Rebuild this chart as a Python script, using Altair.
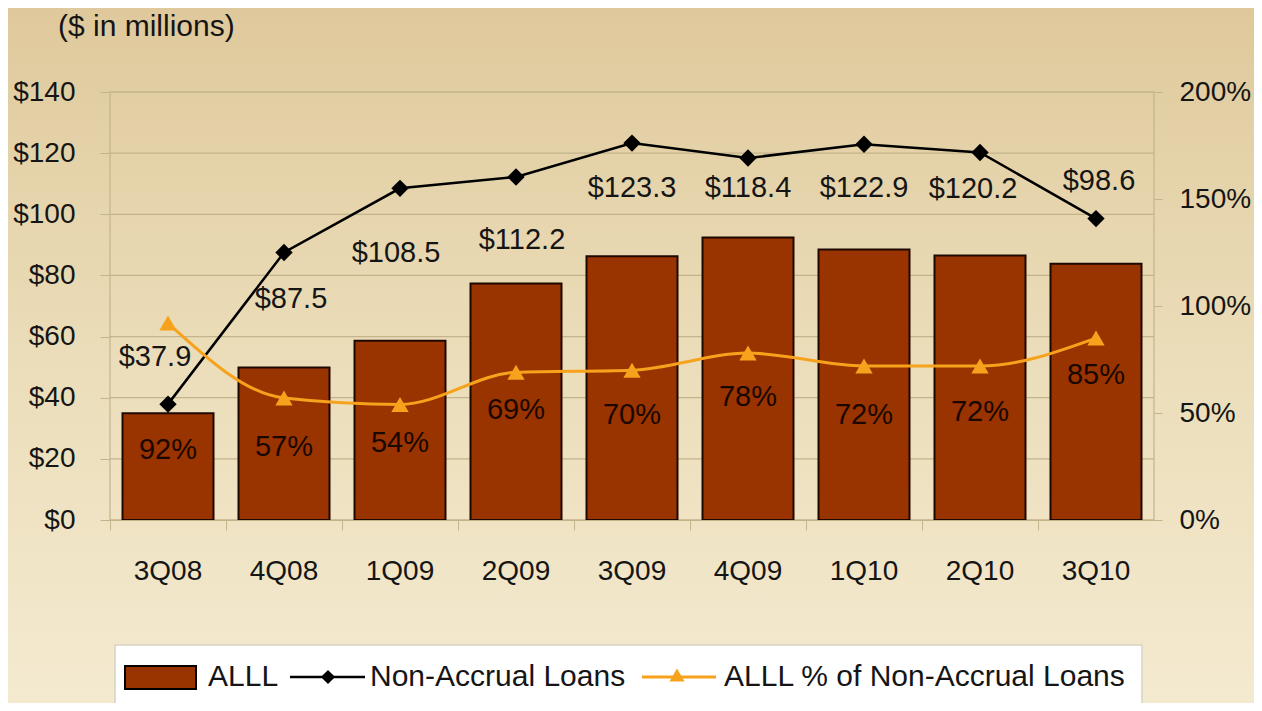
import altair as alt
import pandas as pd

# ---- data ----
quarters = ["3Q08", "4Q08", "1Q09", "2Q09", "3Q09", "4Q09", "1Q10", "2Q10", "3Q10"]
alll = [34.9, 49.9, 58.6, 77.4, 86.3, 92.4, 88.5, 86.5, 83.8]          # $ millions
non_accrual = [37.9, 87.5, 108.5, 112.2, 123.3, 118.4, 122.9, 120.2, 98.6]  # $ millions
alll_pct = [92, 57, 54, 69, 70, 78, 72, 72, 85]                          # %
left_ticks = [0, 20, 40, 60, 80, 100, 120, 140]
right_ticks = [0, 50, 100, 150, 200]

# label nudges (pixels) as placed in the original slide
nal_label_dx = [-13, 7, -4, 6, 0, 0, 0, -7, 3]
nal_label_dy = [-47, 46, 65, 63, 45, 30, 44, 36, -38]
pct_label_dy = [127, 49, 39, 38, 45, 44, 49, 46, 37]

df = pd.DataFrame({
    "quarter": quarters,
    "alll": alll,
    "nal": non_accrual,
    "pct": alll_pct,
    "nal_label": [f"${v:.1f}" for v in non_accrual],
    "pct_label": [f"{p}%" for p in alll_pct],
    "nal_dx": nal_label_dx,
    "nal_dy": nal_label_dy,
    "pct_dy": pct_label_dy,
})
grid_df = pd.DataFrame({"v": left_ticks})

FONT = "Liberation Sans"
BROWN = "#993300"
ORANGE = "#F7A21C"
GRID = "#c4b48b"
TXT = "#151515"

PW, PH = 1044, 428
STEP = PW / len(quarters)

x_enc = alt.X(
    "quarter:N", sort=quarters, title=None,
    scale=alt.Scale(paddingInner=0, paddingOuter=0),
    axis=alt.Axis(labelFont=FONT, labelFontSize=28, labelColor=TXT, labelAngle=0,
                  labelPadding=27, tickSize=10, tickColor=GRID, bandPosition=0,
                  domainColor=GRID, grid=False, zindex=1),
)

left_axis = alt.Axis(values=left_ticks, labelExpr="'$' + datum.value",
                     labelFont=FONT, labelFontSize=28, labelColor=TXT, labelPadding=25,
                     tickSize=10, tickColor=GRID, grid=False,
                     domain=False, title=None, zindex=1)
left_scale = alt.Scale(domain=[0, 140], nice=False)

right_axis = alt.Axis(values=right_ticks, labelExpr="datum.value + '%'",
                      labelFont=FONT, labelFontSize=28, labelColor=TXT, labelPadding=17,
                      tickSize=8, tickColor=GRID, grid=False, domain=False,
                      orient="right", title=None, zindex=1)
right_scale = alt.Scale(domain=[0, 200], nice=False)

base = alt.Chart(df)
one = pd.DataFrame({"k": [0]})

# background gradient covering the whole slide
background = alt.Chart(one).mark_rect(
    fill=alt.Gradient(gradient="linear", x1=0, x2=0, y1=0, y2=1,
                      stops=[alt.GradientStop(offset=0, color="#dfc99c"),
                             alt.GradientStop(offset=0.5, color="#ebddb9"),
                             alt.GradientStop(offset=1, color="#f4ead0")])
).encode(x=alt.value(-102), x2=alt.value(1144), y=alt.value(-84), y2=alt.value(611))

gridlines = alt.Chart(grid_df).mark_rule(color=GRID, strokeWidth=1.2).encode(
    y=alt.Y("v:Q", scale=left_scale, axis=left_axis))
frame = alt.Chart(one).mark_rect(fillOpacity=0, stroke=GRID, strokeWidth=1.2).encode(
    x=alt.value(0), x2=alt.value(PW), y=alt.value(0), y2=alt.value(PH))

bars = base.mark_bar(width=91, color=BROWN, stroke="#1f0800", strokeWidth=2).encode(
    x=x_enc, y=alt.Y("alll:Q", scale=left_scale, axis=left_axis))

nal_line = base.mark_line(color="black", strokeWidth=2.5).encode(
    x=x_enc, y=alt.Y("nal:Q", scale=left_scale, axis=left_axis))
nal_pts = base.mark_point(shape="diamond", filled=True, color="black", size=300, opacity=1).encode(
    x=x_enc, y=alt.Y("nal:Q", scale=left_scale, axis=left_axis))
nal_text = base.transform_calculate(
    ly=f"datum.nal - datum.nal_dy * {140 / PH}"
).mark_text(font=FONT, fontSize=29, color=TXT, baseline="middle").encode(
    x=x_enc, y=alt.Y("ly:Q", scale=left_scale, axis=left_axis),
    xOffset=alt.XOffset("nal_dx:Q", scale=alt.Scale(domain=[-STEP / 2, STEP / 2], range=[0, STEP])),
    text="nal_label:N")

pct_line = base.mark_line(color=ORANGE, strokeWidth=3, interpolate="monotone").encode(
    x=x_enc, y=alt.Y("pct:Q", scale=right_scale, axis=right_axis))
pct_pts = base.mark_point(shape="triangle-up", filled=True, color=ORANGE, size=300, opacity=1).encode(
    x=x_enc, y=alt.Y("pct:Q", scale=right_scale, axis=right_axis))
pct_text = base.transform_calculate(
    ly=f"datum.pct - datum.pct_dy * {200 / PH}"
).mark_text(font=FONT, fontSize=29, color="#1a0800", baseline="middle").encode(
    x=x_enc, y=alt.Y("ly:Q", scale=right_scale, axis=right_axis),
    text="pct_label:N")

# title text
units = alt.Chart(one).mark_text(text="($ in millions)", font=FONT, fontSize=30, color=TXT,
                                 align="left", baseline="middle").encode(
    x=alt.value(-52), y=alt.value(-65))

# manual legend
LY = 585
leg_box = alt.Chart(one).mark_rect(fill="white", stroke="#d8d2c4", strokeWidth=1.5).encode(
    x=alt.value(5), x2=alt.value(1032), y=alt.value(553), y2=alt.value(640))
leg_sw = alt.Chart(one).mark_rect(fill=BROWN, stroke="black", strokeWidth=2).encode(
    x=alt.value(15), x2=alt.value(86), y=alt.value(574), y2=alt.value(597))
leg_t1 = alt.Chart(one).mark_text(text="ALLL", font=FONT, fontSize=30, color=TXT,
                                  align="left", baseline="middle").encode(
    x=alt.value(98), y=alt.value(LY))
leg_l2 = alt.Chart(one).mark_rule(color="black", strokeWidth=2.5).encode(
    x=alt.value(180), x2=alt.value(255), y=alt.value(LY))
leg_p2 = alt.Chart(one).mark_point(shape="diamond", filled=True, color="black", size=200, opacity=1).encode(
    x=alt.value(218), y=alt.value(LY))
leg_t2 = alt.Chart(one).mark_text(text="Non-Accrual Loans", font=FONT, fontSize=30, color=TXT,
                                  align="left", baseline="middle").encode(
    x=alt.value(260), y=alt.value(LY))
leg_l3 = alt.Chart(one).mark_rule(color=ORANGE, strokeWidth=3).encode(
    x=alt.value(532), x2=alt.value(606), y=alt.value(LY))
leg_p3 = alt.Chart(one).mark_point(shape="triangle-up", filled=True, color=ORANGE, size=230, opacity=1).encode(
    x=alt.value(567), y=alt.value(LY - 2))
leg_t3 = alt.Chart(one).mark_text(text="ALLL % of Non-Accrual Loans", font=FONT, fontSize=30, color=TXT,
                                  align="left", baseline="middle").encode(
    x=alt.value(614), y=alt.value(LY))

left_group = alt.layer(background, gridlines, frame, bars, nal_line, nal_pts, nal_text,
                       units, leg_box, leg_sw, leg_t1, leg_l2, leg_p2, leg_t2, leg_l3, leg_p3, leg_t3)
right_group = alt.layer(pct_line, pct_pts, pct_text)

chart = alt.layer(left_group, right_group).resolve_scale(y="independent").properties(
    width=PW, height=PH,
    padding={"left": 102, "top": 84, "right": 100, "bottom": 183},
    autosize=alt.AutoSizeParams(type="none"),
    background="#f2e8cd",
).configure_view(stroke=None)

chart.save("out.html", embed_options={"renderer": "svg", "actions": False})
